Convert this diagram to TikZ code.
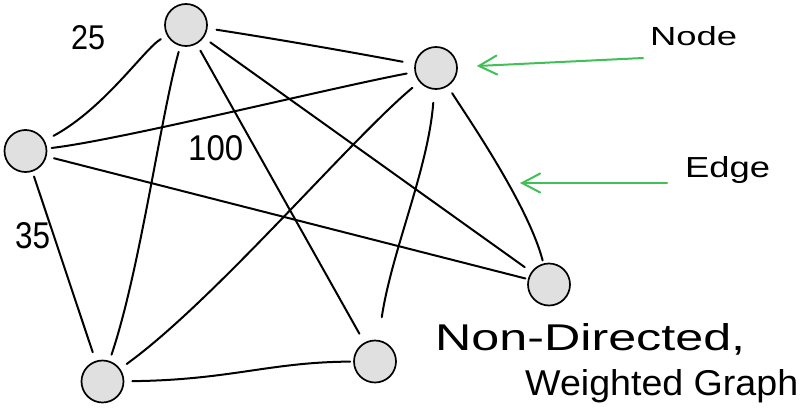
\documentclass[tikz,border=0pt]{standalone}
\usepackage{fontspec}
\usepackage{graphicx}
\setmainfont{Liberation Sans}
\usetikzlibrary{arrows.meta}
\definecolor{vertexfill}{HTML}{E0E0E0}
\definecolor{hintgreen}{HTML}{40C057}
\begin{document}
\begin{tikzpicture}[x=1pt,y=-1pt,
  vertex/.style={circle, draw=black, fill=vertexfill, line width=1.7pt,
                 minimum size=42pt, inner sep=0pt},
  link/.style={draw=black, line width=2pt, line cap=round},
  pointer/.style={draw=hintgreen, line width=2pt, line cap=round,
                  -{Straight Barb[length=18pt,width=19pt,line cap=round]}},
  label/.style={inner sep=0pt, anchor=base west}]
\useasboundingbox (0,0) rectangle (800,407);

% vertices
\node[vertex] (A) at (186,25) {};
\node[vertex] (B) at (436,68) {};
\node[vertex] (C) at (25.5,151) {};
\node[vertex] (D) at (549,284.5) {};
\node[vertex] (E) at (375,361.5) {};
\node[vertex] (F) at (102.5,381.5) {};

% edges
\draw[link, shorten <=9pt, shorten >=12pt] (A) .. controls (270,38) and (340,50) .. (B);
\draw[link, shorten <=7pt, shorten >=10pt] (A) .. controls (145,48) and (105,108) .. (C);
\draw[link, shorten <=8pt, shorten >=8pt] (A) -- (D);
\draw[link, shorten <=7.5pt, shorten >=10pt] (A) -- (E);
\draw[link, shorten <=6pt, shorten >=6.5pt] (A) .. controls (160,120) and (140,270) .. (F);
\draw[link, shorten <=8pt, shorten >=4.5pt] (B) .. controls (330,88) and (120,140) .. (C);
\draw[link, shorten <=8pt, shorten >=3pt] (B) .. controls (468,118) and (528,205) .. (D);
\draw[link, shorten <=13pt, shorten >=23pt] (B) .. controls (428,170) and (392,250) .. (E);
\draw[link, shorten <=9pt, shorten >=8pt] (B) .. controls (350,140) and (215,300) .. (F);
\draw[link, shorten <=7.5pt, shorten >=2.5pt] (C) -- (D);
\draw[link, shorten <=5pt, shorten >=9pt] (C) -- (F);
\draw[link, shorten <=8pt, shorten >=3pt] (F) .. controls (230,380) and (270,362) .. (E);

% edge weights
\node[label] (w25) at (71,49) {\resizebox{34pt}{24pt}{25}};
\node[label] (w100) at (188,160) {\resizebox{55pt}{25pt}{100}};
\node[label] (w35) at (15,248) {\resizebox{35pt}{26pt}{35}};

% annotations
\node[label] (nodetext) at (650,45) {\resizebox{87pt}{19pt}{Node}};
\node[label] (edgetext) at (685,177) {\resizebox{85pt}{21pt}{Edge}};
\node[label] (title1) at (435,350) {\resizebox{310pt}{27pt}{Non-Directed,}};
\node[label] (title2) at (525,395) {\resizebox{273pt}{26pt}{Weighted Graph}};

\coordinate (nodetail) at (643,58);
\coordinate (edgetail) at (667,183);
\coordinate (edgetip) at (520,183);
\draw[pointer, shorten >=19pt] (nodetail) -- (B);
\draw[pointer] (edgetail) -- (edgetip);
\end{tikzpicture}
\end{document}
